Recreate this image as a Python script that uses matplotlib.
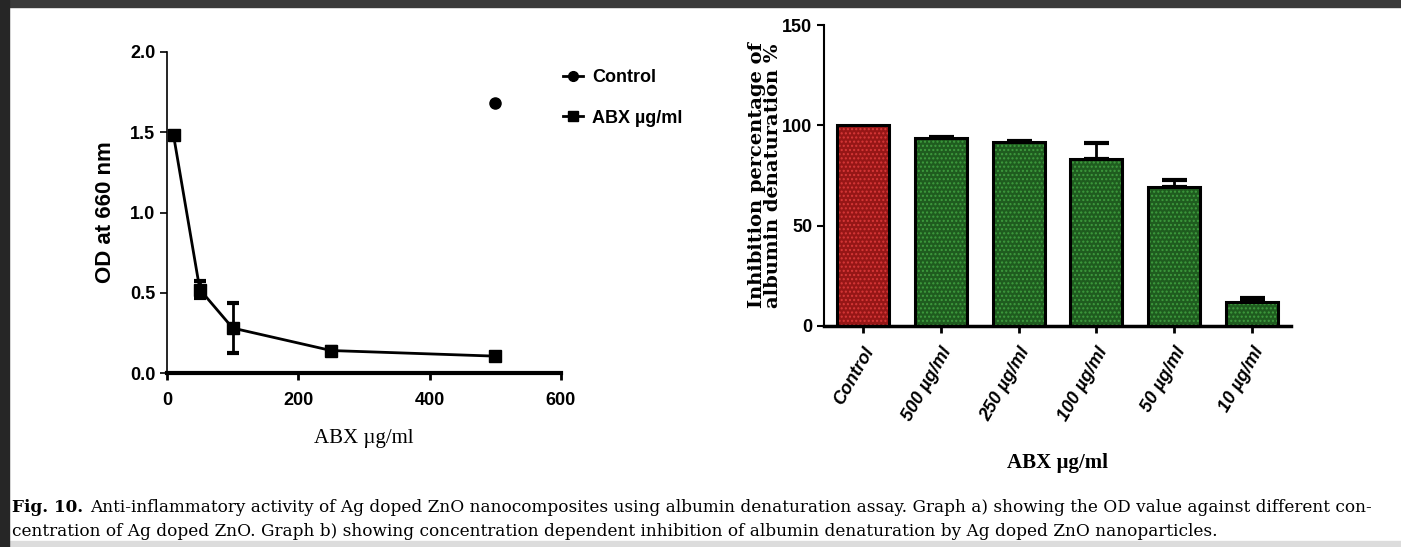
import numpy as np
import matplotlib
matplotlib.use("Agg")
import matplotlib.pyplot as plt
from matplotlib.patches import Rectangle
from matplotlib.lines import Line2D

# ---- data: graph a) OD at 660 nm
conc = [10, 50, 100, 250, 500]
od = [1.48, 0.52, 0.28, 0.14, 0.105]
od_err = [0.02, 0.055, 0.155, 0.02, 0.02]
control_x = [500]
control_od = [1.68]

# ---- data: graph b) inhibition %
groups = ["Control", "500 \u00b5g/ml", "250 \u00b5g/ml", "100 \u00b5g/ml", "50 \u00b5g/ml", "10 \u00b5g/ml"]
inhib = [100.0, 93.8, 91.5, 83.4, 69.4, 12.1]
inhib_err = [0.0, 0.5, 0.8, 8.0, 3.4, 2.0]

sans = ["Liberation Sans", "DejaVu Sans"]
serif = ["Liberation Serif", "DejaVu Serif"]

W, H = 1401, 547
fig = plt.figure(figsize=(W / 100, H / 100), dpi=100)
fig.patch.set_facecolor("white")

def box(x0, y0, x1, y1):
    # pixel box (from top-left) -> figure fraction rect
    return [x0 / W, 1 - y1 / H, (x1 - x0) / W, (y1 - y0) / H]

# screenshot frame
fig.patches.append(Rectangle((0, 1 - 7 / H), 1, 7 / H, transform=fig.transFigure, color="#3a3a3a", zorder=-5))
fig.patches.append(Rectangle((0, 0), 9 / W, 1, transform=fig.transFigure, color="#262626", zorder=-4))
fig.patches.append(Rectangle((0, 0), 1, 6 / H, transform=fig.transFigure, color="#dcdcdc", zorder=-5))

# ---------------- graph a
ax1 = fig.add_axes(box(167, 52, 561, 373))
ax1.errorbar(conc, od, yerr=od_err, color="black", lw=2, marker="s", ms=8,
             capsize=4, capthick=3, elinewidth=2, zorder=3)
ax1.plot(control_x, control_od, "o", color="black", ms=8)
ax1.set_xlim(0, 600)
ax1.set_ylim(0, 2.0)
ax1.set_xticks([0, 200, 400, 600])
ax1.set_yticks([0, 0.5, 1.0, 1.5, 2.0])
ax1.set_yticklabels(["0.0", "0.5", "1.0", "1.5", "2.0"])
for s in ["top", "right"]:
    ax1.spines[s].set_visible(False)
ax1.spines["left"].set_linewidth(1.2)
ax1.spines["bottom"].set_linewidth(3)
ax1.tick_params(axis="both", direction="out", length=5, width=1.2, labelsize=13)
ax1.tick_params(axis="x", pad=9, width=2)
for lab in ax1.get_xticklabels() + ax1.get_yticklabels():
    lab.set_family(sans)
    lab.set_fontweight("bold")
ax1.set_ylabel("OD at 660 nm", fontsize=16, family=sans, fontweight="bold", labelpad=10)
ax1.set_xlabel("ABX \u00b5g/ml", fontsize=15, family=serif, labelpad=14)

handles = [Line2D([], [], color="black", lw=2, marker="o", ms=7),
           Line2D([], [], color="black", lw=2, marker="s", ms=7)]
fig.legend(handles, ["Control", "ABX \u00b5g/ml"], loc="upper left",
           bbox_to_anchor=(547 / W, 1 - 53 / H), frameon=False,
           handlelength=1.1, handletextpad=0.5, labelspacing=1.3,
           prop={"family": sans, "size": 13, "weight": "bold"})

# ---------------- graph b
ax2 = fig.add_axes(box(824, 25, 1291, 326))
pos = np.arange(len(groups))
face = ["#961616"] + ["#1f5c1f"] * 5
dots = ["#d83838"] + ["#3e9c3e"] * 5
ax2.bar(pos, inhib, width=0.67, color=face, edgecolor=dots, hatch="....", lw=0, zorder=2)
ax2.bar(pos, inhib, width=0.67, fill=False, edgecolor="black", lw=2.2, zorder=3)
ax2.errorbar(pos[1:], inhib[1:], yerr=[np.zeros(5), inhib_err[1:]], fmt="none",
             ecolor="black", elinewidth=2, capsize=9, capthick=3, zorder=1)
ax2.set_xlim(-0.5, 5.5)
ax2.set_ylim(0, 150)
ax2.set_yticks([0, 50, 100, 150])
ax2.set_xticks(pos)
ax2.set_xticklabels(groups, rotation=60, ha="right", rotation_mode="anchor",
                    fontsize=13, fontweight="bold", style="italic", family=sans)
for s in ["top", "right"]:
    ax2.spines[s].set_visible(False)
ax2.spines["left"].set_linewidth(1.5)
ax2.spines["bottom"].set_linewidth(2.5)
ax2.tick_params(axis="both", direction="out", length=5, width=1.5)
ax2.tick_params(axis="x", width=2, pad=8)
ax2.tick_params(axis="y", labelsize=13)
for lab in ax2.get_yticklabels():
    lab.set_family(sans)
    lab.set_fontweight("bold")
ax2.set_ylabel("Inhibition percentage of\nalbumin denaturation %", fontsize=14,
               family=["DejaVu Serif"], fontweight="bold", labelpad=0, linespacing=0.85)
ax2.set_xlabel("ABX \u00b5g/ml", fontsize=15, family=serif, fontweight="bold", labelpad=21)

# ---------------- caption
cap_size = 12.2
cap_font = ["DejaVu Serif"]
fig.canvas.draw()
r = fig.canvas.get_renderer()
t0 = fig.text(12 / W, 1 - 507 / H, "Fig. 10.", family=cap_font, fontweight="bold",
              fontsize=cap_size, va="center")
bb = t0.get_window_extent(r)
fig.text((bb.x1 + 7) / W, 1 - 507 / H,
         "Anti-inflammatory activity of Ag doped ZnO nanocomposites using albumin denaturation assay. "
         "Graph a) showing the OD value against different con-",
         family=cap_font, fontsize=cap_size, va="center")
fig.text(12 / W, 1 - 531 / H,
         "centration of Ag doped ZnO. Graph b) showing concentration dependent inhibition of "
         "albumin denaturation by Ag doped ZnO nanoparticles.",
         family=cap_font, fontsize=cap_size, va="center")

fig.savefig("out.png", dpi=100)
